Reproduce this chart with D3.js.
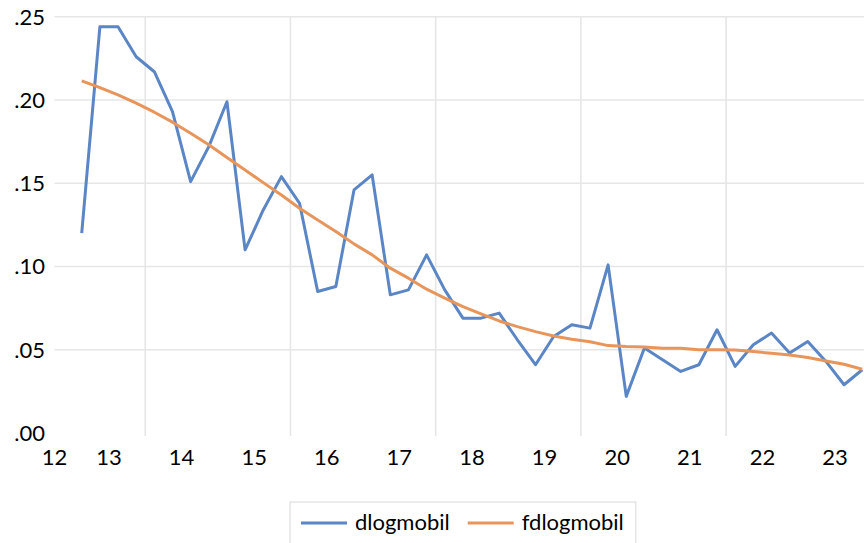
<!DOCTYPE html>
<html>
<head>
<meta charset="utf-8">
<script src="https://cdn.jsdelivr.net/npm/d3@7"></script>
<style>
    body { margin: 0; background: #fff; }
    svg { display: block; font-family: Lato, "Open Sans", sans-serif; }
</style>
</head>
<body>
<script>
// quarterly data, 2013Q1 .. 2023Q4
const startYear = 2013
const yearLabels = ['12', '13', '14', '15', '16', '17', '18', '19', '20', '21', '22', '23']
const yTicks = [0, 0.05, 0.10, 0.15, 0.20, 0.25]
const seriesNames = ['dlogmobil', 'fdlogmobil']

const dlogmobil = [
    0.120, 0.244, 0.244, 0.226, 0.217, 0.193, 0.151, 0.172,
    0.199, 0.110, 0.134, 0.154, 0.138, 0.085, 0.088, 0.146,
    0.155, 0.083, 0.086, 0.107, 0.086, 0.069, 0.069, 0.072,
    0.056, 0.041, 0.058, 0.065, 0.063, 0.101, 0.022, 0.051,
    0.044, 0.037, 0.041, 0.062, 0.040, 0.053, 0.060, 0.048,
    0.055, 0.043, 0.029, 0.038
]
const fdlogmobil = [
    0.2115, 0.2075, 0.2031, 0.1981, 0.1927, 0.1867, 0.1801, 0.1731,
    0.1655, 0.1580, 0.1504, 0.1430, 0.1350, 0.1280, 0.1210, 0.1136,
    0.1070, 0.0990, 0.0930, 0.0864, 0.0810, 0.0759, 0.0715, 0.0673,
    0.0639, 0.0609, 0.0583, 0.0563, 0.0548, 0.0525, 0.0519, 0.0517,
    0.0509, 0.0509, 0.0500, 0.0500, 0.0499, 0.0489, 0.0479, 0.0469,
    0.0453, 0.0433, 0.0413, 0.0383
]

const W = 864, H = 543
const COLORS = ['#5b86c5', '#e8955b']
const GRID = '#e6e6e6'

// mid-quarter position of each observation, in fractional years
const t = dlogmobil.map((d, i) => startYear + Math.floor(i / 4) + ((i % 4) + 0.5) / 4)

const x = d3.scaleLinear()
    .domain([2012.75, 2024])
    .range([54.5, 871.3])
const y = d3.scaleLinear()
    .domain([0, 0.25])
    .range([433, 16.8])

const svg = d3.select('body').append('svg')
    .attr('width', W)
    .attr('height', H)

// horizontal grid
svg.append('g')
    .selectAll('line')
    .data(yTicks.filter(d => d > 0))
    .join('line')
    .attr('x1', x.range()[0])
    .attr('x2', x.range()[1])
    .attr('y1', d => y(d))
    .attr('y2', d => y(d))
    .attr('stroke', GRID)
    .attr('stroke-width', 1.6)

// vertical grid every other year
svg.append('g')
    .selectAll('line')
    .data(d3.range(2014, 2024, 2))
    .join('line')
    .attr('x1', d => x(d))
    .attr('x2', d => x(d))
    .attr('y1', y(0.25))
    .attr('y2', y(0) + 3)
    .attr('stroke', GRID)
    .attr('stroke-width', 1.6)

// y labels
svg.append('g')
    .selectAll('text')
    .data(yTicks)
    .join('text')
    .attr('x', 45)
    .attr('y', d => y(d))
    .attr('dy', '0.36em')
    .attr('text-anchor', 'end')
    .attr('font-size', 22)
    .attr('fill', '#000')
    .text(d => d3.format('.2f')(d).replace(/^0/, ''))

// x labels, centred on each year (clamped to the plot start)
svg.append('g')
    .selectAll('text')
    .data(yearLabels)
    .join('text')
    .attr('x', (d, i) => Math.max(x(2012 + i + 0.5), x.range()[0]))
    .attr('y', 465)
    .attr('text-anchor', 'middle')
    .attr('font-size', 22)
    .attr('fill', '#000')
    .text(d => d)

// series lines
const line = d3.line()
    .x((d, i) => x(t[i]))
    .y(d => y(d))

const series = [dlogmobil, fdlogmobil]
series.forEach((s, k) => {
    svg.append('path')
        .datum(s)
        .attr('fill', 'none')
        .attr('stroke', COLORS[k])
        .attr('stroke-width', 3)
        .attr('stroke-linejoin', 'round')
        .attr('d', line)
})

// legend
const SWATCH = 46, TEXT_GAP = 8, ITEM_GAP = 18, PAD_L = 11, PAD_R = 12
const legend = svg.append('g')
const box = legend.append('rect')
const items = legend.selectAll('g.item')
    .data(seriesNames)
    .join('g')
    .attr('class', 'item')
items.append('line')
    .attr('x2', SWATCH)
    .attr('stroke', (d, i) => COLORS[i])
    .attr('stroke-width', 3)
items.append('text')
    .attr('x', SWATCH + TEXT_GAP)
    .attr('dy', '0.33em')
    .attr('font-size', 22)
    .attr('fill', '#000')
    .text(d => d)

let cursor = PAD_L
items.each(function() {
    d3.select(this).attr('transform', `translate(${cursor},0)`)
    cursor += SWATCH + TEXT_GAP + this.querySelector('text').getComputedTextLength() + ITEM_GAP
})
const legendW = cursor - ITEM_GAP + PAD_R
box.attr('y', -21)
    .attr('width', legendW)
    .attr('height', 48)
    .attr('fill', '#fff')
    .attr('stroke', '#d9d9d9')
legend.attr('transform', `translate(${(x.range()[0] + x.range()[1]) / 2 - legendW / 2},523)`)
</script>
</body>
</html>
